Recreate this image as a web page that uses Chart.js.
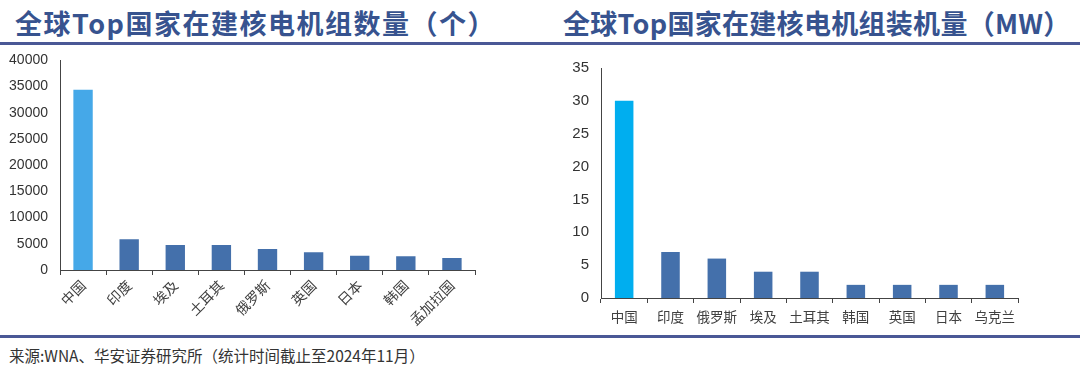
<!DOCTYPE html>
<html><head><meta charset="utf-8">
<script src="https://cdn.jsdelivr.net/npm/chart.js@4.4.1/dist/chart.umd.min.js"></script>
<style>
html,body{margin:0;padding:0;background:#fff;width:1080px;height:368px;overflow:hidden;}
.t{position:absolute;top:3px;font-family:"Noto Sans CJK SC","Noto Sans",sans-serif;font-weight:700;font-size:27px;color:#37538f;white-space:nowrap;}
.line{position:absolute;left:0;width:1080px;height:3px;background:#4a5896;}
.src{position:absolute;left:9px;top:344px;font-family:"Noto Sans CJK SC",sans-serif;font-size:15.5px;color:#333;white-space:nowrap;}
.c{position:absolute;}
</style></head><body>
<div class="t" style="left:15px;letter-spacing:1.5px">全球Top国家在建核电机组数量（个）</div>
<div class="t" style="left:563px;letter-spacing:0.3px">全球Top国家在建核电机组装机量（MW）</div>
<div class="line" style="top:42px"></div>
<div class="line" style="top:335px"></div>
<div class="src">来源:WNA、华安证券研究所（统计时间截止至2024年11月）</div>
<div class="c" style="left:0;top:40px;width:490px;height:295px"><canvas id="c1"></canvas></div>
<div class="c" style="left:545px;top:47px;width:490px;height:288px"><canvas id="c2"></canvas></div>
<script>
const leftCategories = ["中国","印度","埃及","土耳其","俄罗斯","英国","日本","韩国","孟加拉国"];
const leftValues = [34400, 5850, 4760, 4760, 4000, 3370, 2730, 2620, 2290];
const leftTicks = [0,5000,10000,15000,20000,25000,30000,35000,40000];

const rightCategories = ["中国","印度","俄罗斯","埃及","土耳其","韩国","英国","日本","乌克兰"];
const rightValues = [30, 7, 6, 4, 4, 2, 2, 2, 2];
const rightTicks = [0,5,10,15,20,25,30,35];

const darkBlue = "#4470ab";
const cjk = '"Noto Sans CJK SC", sans-serif';
const num = '"Liberation Sans", Arial, sans-serif';

function make(id, cats, vals, ticks, highlight, opts){
  const colors = vals.map((v,i)=> i===0 ? highlight : darkBlue);
  return new Chart(document.getElementById(id), {
    type:'bar',
    data:{labels:cats, datasets:[{data:vals, backgroundColor:colors, borderWidth:0,
      categoryPercentage:1, barPercentage:opts.barPct}]},
    options:{
      responsive:true, maintainAspectRatio:false, animation:false,
      devicePixelRatio:1,
      layout:{padding:{top:opts.padTop, right:opts.padRight, left:0, bottom:0}},
      plugins:{legend:{display:false}, tooltip:{enabled:false}},
      scales:{
        x:{
          offset:true,
          grid:{display:true, offset:true, drawOnChartArea:false, drawTicks:true, tickLength:5, color:'#444', lineWidth:1},
          border:{display:true, color:'#444', width:1},
          ticks:{color:'#404040', font:{family:cjk, size:opts.xFont}, padding:opts.xPad,
            minRotation:opts.rot, maxRotation:opts.rot, autoSkip:false},
          afterFit:(s)=>{s.height = opts.xH;}
        },
        y:{
          min:ticks[0], max:ticks[ticks.length-1],
          afterBuildTicks:(s)=>{s.ticks = ticks.map(v=>({value:v}));},
          grid:{display:false, drawTicks:false},
          border:{display:true, color:'#444', width:1},
          ticks:{color:'#333', font:{family:num, size:opts.yFont}, padding:opts.yPad,
            callback:(v)=>String(v)},
          afterFit:(s)=>{s.width = opts.yW;}
        }
      }
    }
  });
}
make('c1', leftCategories, leftValues, leftTicks, '#45a8e8',
  {barPct:0.42, padTop:0, padRight:15, xH:65, yW:60, rot:45, xPad:2, xFont:14, yFont:14, yPad:12});
make('c2', rightCategories, rightValues, rightTicks, '#00aeef',
  {barPct:0.40, padTop:0, padRight:17, xH:37, yW:56, rot:0, xPad:6, xFont:13.5, yFont:15, yPad:12});
</script>
</body></html>
